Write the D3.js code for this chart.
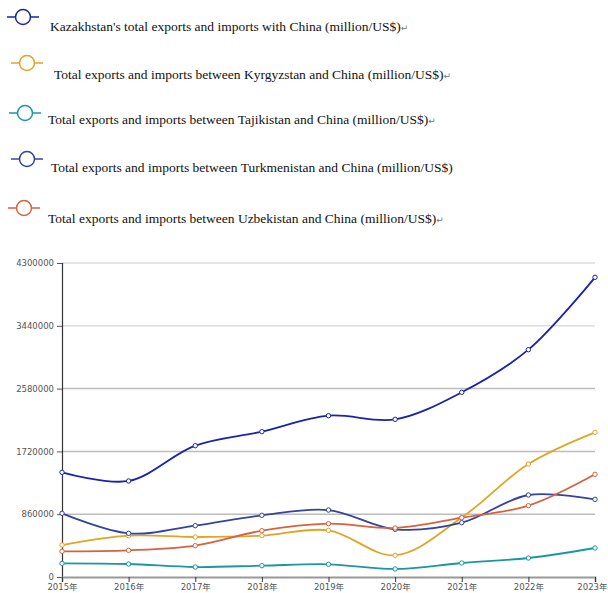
<!DOCTYPE html>
<html>
<head>
<meta charset="utf-8">
<script src="https://cdn.jsdelivr.net/npm/d3@7"></script>
<style>
  html, body { margin: 0; padding: 0; background: #fff; }
  svg { display: block; }
</style>
</head>
<body>
<svg id="chart" width="608" height="593"></svg>
<script>
// Trade with China, Central Asian countries, 2015–2023
const years = ["2015年", "2016年", "2017年", "2018年", "2019年", "2020年", "2021年", "2022年", "2023年"];
const yTicks = [0, 860000, 1720000, 2580000, 3440000, 4300000];

const kazakhstan   = [1434000, 1315000, 1798000, 1990000, 2209000, 2159000, 2529000, 3113000, 4104000];
const kyrgyzstan   = [438000, 566000, 548000, 566000, 639000, 297000, 815000, 1547000, 1981000];
const tajikistan   = [187000, 178000, 137000, 155000, 174000, 110000, 192000, 260000, 397000];
const turkmenistan = [872000, 598000, 703000, 845000, 917000, 653000, 744000, 1123000, 1063000];
const uzbekistan   = [352000, 365000, 429000, 634000, 730000, 671000, 812000, 977000, 1406000];

const seriesNames = [
  "Kazakhstan's total exports and imports with China (million/US$)",
  "Total exports and imports between Kyrgyzstan and China (million/US$)",
  "Total exports and imports between Tajikistan and China (million/US$)",
  "Total exports and imports between Turkmenistan and China (million/US$)",
  "Total exports and imports between Uzbekistan and China (million/US$)"
];
// Paragraph marks that trail some of the legend labels
const trailingMarks = ["↵", "↵", "↵", "", "↵"];
const seriesColors = ["#1b22a8", "#e0a526", "#1a97a3", "#34449a", "#d7623f"];

const series = [kazakhstan, kyrgyzstan, tajikistan, turkmenistan, uzbekistan].map((values, i) => ({
  name: seriesNames[i], mark: trailingMarks[i], color: seriesColors[i], values
}));

const svg = d3.select("#chart");

// Legend rows: each has its own slightly offset icon and label position
const legendRows = [
  { ix: 23, iy: 17, tx: 50, ty: 31 },
  { ix: 27, iy: 63, tx: 54, ty: 79 },
  { ix: 25, iy: 113, tx: 48, ty: 124 },
  { ix: 27, iy: 159, tx: 51, ty: 172 },
  { ix: 24, iy: 208, tx: 48, ty: 223 }
];

const legend = svg.append("g").attr("class", "legend");
series.forEach((s, i) => {
  const r = legendRows[i];
  const g = legend.append("g");
  g.append("line")
    .attr("x1", r.ix - 16).attr("x2", r.ix + 16)
    .attr("y1", r.iy).attr("y2", r.iy)
    .attr("stroke", s.color).attr("stroke-width", 1.5);
  g.append("circle")
    .attr("cx", r.ix).attr("cy", r.iy).attr("r", 7.5)
    .attr("fill", "#fff").attr("stroke", s.color).attr("stroke-width", 1.5);
  const t = g.append("text")
    .attr("x", r.tx).attr("y", r.ty)
    .attr("font-family", "'Liberation Serif', 'Times New Roman', serif")
    .attr("font-size", 13.5)
    .attr("fill", "#111");
  t.append("tspan").text(s.name);
  if (s.mark) {
    t.append("tspan")
      .attr("font-family", "'DejaVu Sans', sans-serif")
      .attr("font-size", 9)
      .attr("fill", "#777")
      .text(s.mark);
  }
});

// Plot area
const plotLeft = 62, plotRight = 595, plotTop = 263, plotBottom = 577;

const x = d3.scalePoint().domain(years).range([plotLeft, plotRight]);
const y = d3.scaleLinear().domain([0, 4300000]).range([plotBottom, plotTop]);

// Horizontal grid lines
svg.append("g")
  .selectAll("line")
  .data(yTicks.filter(d => d > 0))
  .join("line")
  .attr("x1", plotLeft).attr("x2", plotRight)
  .attr("y1", d => y(d)).attr("y2", d => y(d))
  .attr("stroke", d => d >= 3440000 ? "#dcdcdc" : "#bdbdbd")
  .attr("stroke-width", 1.5);

// Y axis
const yAxis = svg.append("g")
  .attr("transform", `translate(${plotLeft},0)`)
  .call(d3.axisLeft(y).tickValues(yTicks).tickFormat(d3.format("d")).tickSize(5).tickPadding(3));
yAxis.select(".domain").attr("stroke", "#333").attr("stroke-width", 1.2);
yAxis.selectAll(".tick line").attr("stroke", "#555");
yAxis.selectAll("text")
  .attr("font-family", "'DejaVu Sans', sans-serif")
  .attr("font-size", 8.5)
  .attr("fill", "#555");

// X axis
const xAxis = svg.append("g")
  .attr("transform", `translate(0,${plotBottom})`)
  .call(d3.axisBottom(x).tickSize(5).tickPadding(2));
xAxis.select(".domain").attr("stroke", "#999").attr("stroke-width", 1.8);
xAxis.selectAll(".tick line").attr("stroke", "#333");
xAxis.selectAll("text")
  .attr("font-family", "'DejaVu Sans', 'Noto Sans CJK SC', sans-serif")
  .attr("font-size", 8.5)
  .attr("fill", "#555");
// keep the last year label inside the page edge
xAxis.selectAll(".tick text").filter(d => d === years[years.length - 1])
  .attr("text-anchor", "end")
  .attr("dx", 12);

// Series lines and point markers
const line = d3.line()
  .x((d, i) => x(years[i]))
  .y(d => y(d))
  .curve(d3.curveCatmullRom.alpha(0.5));

const plot = svg.append("g");
series.forEach(s => {
  plot.append("path")
    .datum(s.values)
    .attr("d", line)
    .attr("fill", "none")
    .attr("stroke", s.color)
    .attr("stroke-width", 1.8);
});
series.forEach(s => {
  plot.append("g")
    .selectAll("circle")
    .data(s.values)
    .join("circle")
    .attr("cx", (d, i) => x(years[i]))
    .attr("cy", d => y(d))
    .attr("r", 2.2)
    .attr("fill", "#fff")
    .attr("stroke", s.color)
    .attr("stroke-width", 1);
});
</script>
</body>
</html>
